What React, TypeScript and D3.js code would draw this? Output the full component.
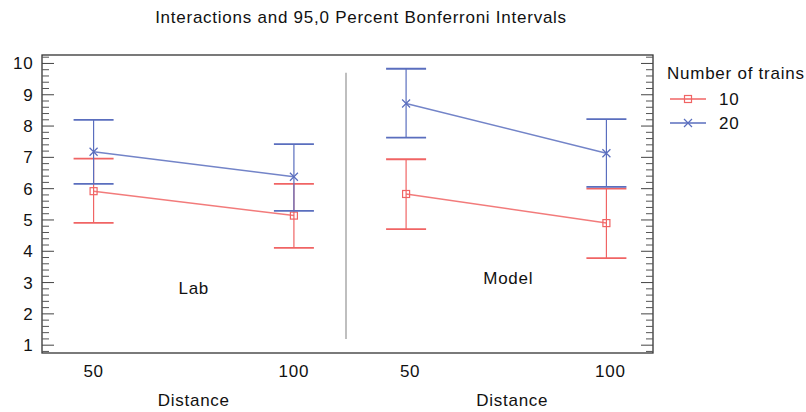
import React from 'react';
import * as d3 from 'd3';

const panels = ['Lab', 'Model'];
const distances = ['50', '100'];
const seriesNames = ['10', '20'];
const seriesColors = ['#f06464', '#5a6ebe'];
const yTicks = [1, 2, 3, 4, 5, 6, 7, 8, 9, 10];

// means and Bonferroni limits, order: panel x distance
const means10 = [[5.92, 5.14], [5.83, 4.90]];
const lower10 = [[4.91, 4.11], [4.71, 3.78]];
const upper10 = [[6.96, 6.15], [6.94, 6.00]];
const means20 = [[7.18, 6.38], [8.72, 7.13]];
const lower20 = [[6.15, 5.29], [7.63, 6.06]];
const upper20 = [[8.20, 7.42], [9.83, 8.22]];

const series = [
  { name: seriesNames[0], color: seriesColors[0], mean: means10, lo: lower10, hi: upper10, marker: 'square' },
  { name: seriesNames[1], color: seriesColors[1], mean: means20, lo: lower20, hi: upper20, marker: 'cross' },
];

const W = 806;
const H = 412;
const plot = { left: 42, top: 55, right: 653, bottom: 353 };
const font = '"Liberation Sans", Arial, sans-serif';
const fs = 17;
const ls = 0.75;

const Marker = ({ type, x, y, color }: { type: string; x: number; y: number; color: string }) =>
  type === 'square' ? (
    <rect x={x - 3.5} y={y - 3.5} width={7} height={7} fill="none" stroke={color} strokeWidth={1.2} />
  ) : (
    <path d={`M${x - 4},${y - 4}L${x + 4},${y + 4}M${x - 4},${y + 4}L${x + 4},${y - 4}`} stroke={color} strokeWidth={1.2} />
  );

export default function App() {
  const y = d3.scaleLinear().domain([0.75, 10.27]).range([plot.bottom, plot.top]);
  const panel = d3.scaleBand().domain(panels).range([37.5, 662.5]);
  const inner = d3.scalePoint().domain(distances).range([0, panel.bandwidth()]).padding(0.28);
  const px = (p: string, d: string) => (panel(p) as number) + (inner(d) as number);
  const minor = d3.range(0.8, 10.21, 0.2).filter((v) => Math.abs(v - Math.round(v)) > 0.01);

  return (
    <svg width={W} height={H} style={{ position: 'absolute', left: 0, top: 0 }} fontFamily={font} fontSize={fs} letterSpacing={ls}>
      <text x={361} y={23} textAnchor="middle" fill="#111">
        Interactions and 95,0 Percent Bonferroni Intervals
      </text>

      <rect x={plot.left} y={plot.top} width={plot.right - plot.left} height={plot.bottom - plot.top} fill="none" stroke="#333" strokeWidth={1.3} />

      {/* inside ticks, both sides */}
      {yTicks.map((t) => (
        <g key={t}>
          <line x1={plot.left} x2={plot.left + 12} y1={y(t)} y2={y(t)} stroke="#444" />
          <line x1={plot.right - 12} x2={plot.right} y1={y(t)} y2={y(t)} stroke="#444" />
          <text x={33.5} y={y(t) + 6} textAnchor="end" fill="#111">{t}</text>
        </g>
      ))}
      {minor.map((t, i) => (
        <g key={i}>
          <line x1={plot.left} x2={plot.left + 7} y1={y(t)} y2={y(t)} stroke="#555" />
          <line x1={plot.right - 7} x2={plot.right} y1={y(t)} y2={y(t)} stroke="#555" />
        </g>
      ))}

      {/* panel divider */}
      <line x1={(panel('Model') as number) - 4} x2={(panel('Model') as number) - 4} y1={y(9.7)} y2={y(1.2)} stroke="#aaa" strokeWidth={1.5} />

      {panels.map((p, pi) => (
        <g key={p}>
          <text x={(panel(p) as number) + panel.bandwidth() / 2 + pi * 2} y={pi === 0 ? 294 : 284} textAnchor="middle" fill="#111">{p}</text>
          {distances.map((d) => (
            <text key={d} x={px(p, d) + pi * 4} y={377} textAnchor="middle" fill="#111">{d}</text>
          ))}
          <text x={(panel(p) as number) + panel.bandwidth() / 2 + pi * 6} y={406} textAnchor="middle" fill="#111">Distance</text>
        </g>
      ))}

      {series.map((s) => (
        <g key={s.name}>
          {panels.map((p, pi) => {
            const line = d3.line<number>().x((_, i) => px(p, distances[i])).y((v) => y(v));
            return (
              <g key={p}>
                <path d={line(s.mean[pi]) || ''} fill="none" stroke={s.color} strokeWidth={1.5} strokeOpacity={0.85} />
                {distances.map((d, di) => {
                  const cx = px(p, d);
                  return (
                    <g key={d}>
                      <line x1={cx} x2={cx} y1={y(s.lo[pi][di])} y2={y(s.hi[pi][di])} stroke={s.color} strokeWidth={1.2} />
                      <line x1={cx - 20} x2={cx + 20} y1={y(s.lo[pi][di])} y2={y(s.lo[pi][di])} stroke={s.color} strokeWidth={1.8} />
                      <line x1={cx - 20} x2={cx + 20} y1={y(s.hi[pi][di])} y2={y(s.hi[pi][di])} stroke={s.color} strokeWidth={1.8} />
                      <Marker type={s.marker} x={cx} y={y(s.mean[pi][di])} color={s.color} />
                    </g>
                  );
                })}
              </g>
            );
          })}
        </g>
      ))}

      {/* legend */}
      <text x={667} y={79} fill="#111">Number of trains</text>
      {series.map((s, i) => (
        <g key={s.name}>
          <line x1={670} x2={706} y1={99 + i * 24} y2={99 + i * 24} stroke={s.color} strokeWidth={1.5} />
          <Marker type={s.marker} x={688} y={99 + i * 24} color={s.color} />
          <text x={719} y={105 + i * 24} fill="#111">{s.name}</text>
        </g>
      ))}
    </svg>
  );
}
